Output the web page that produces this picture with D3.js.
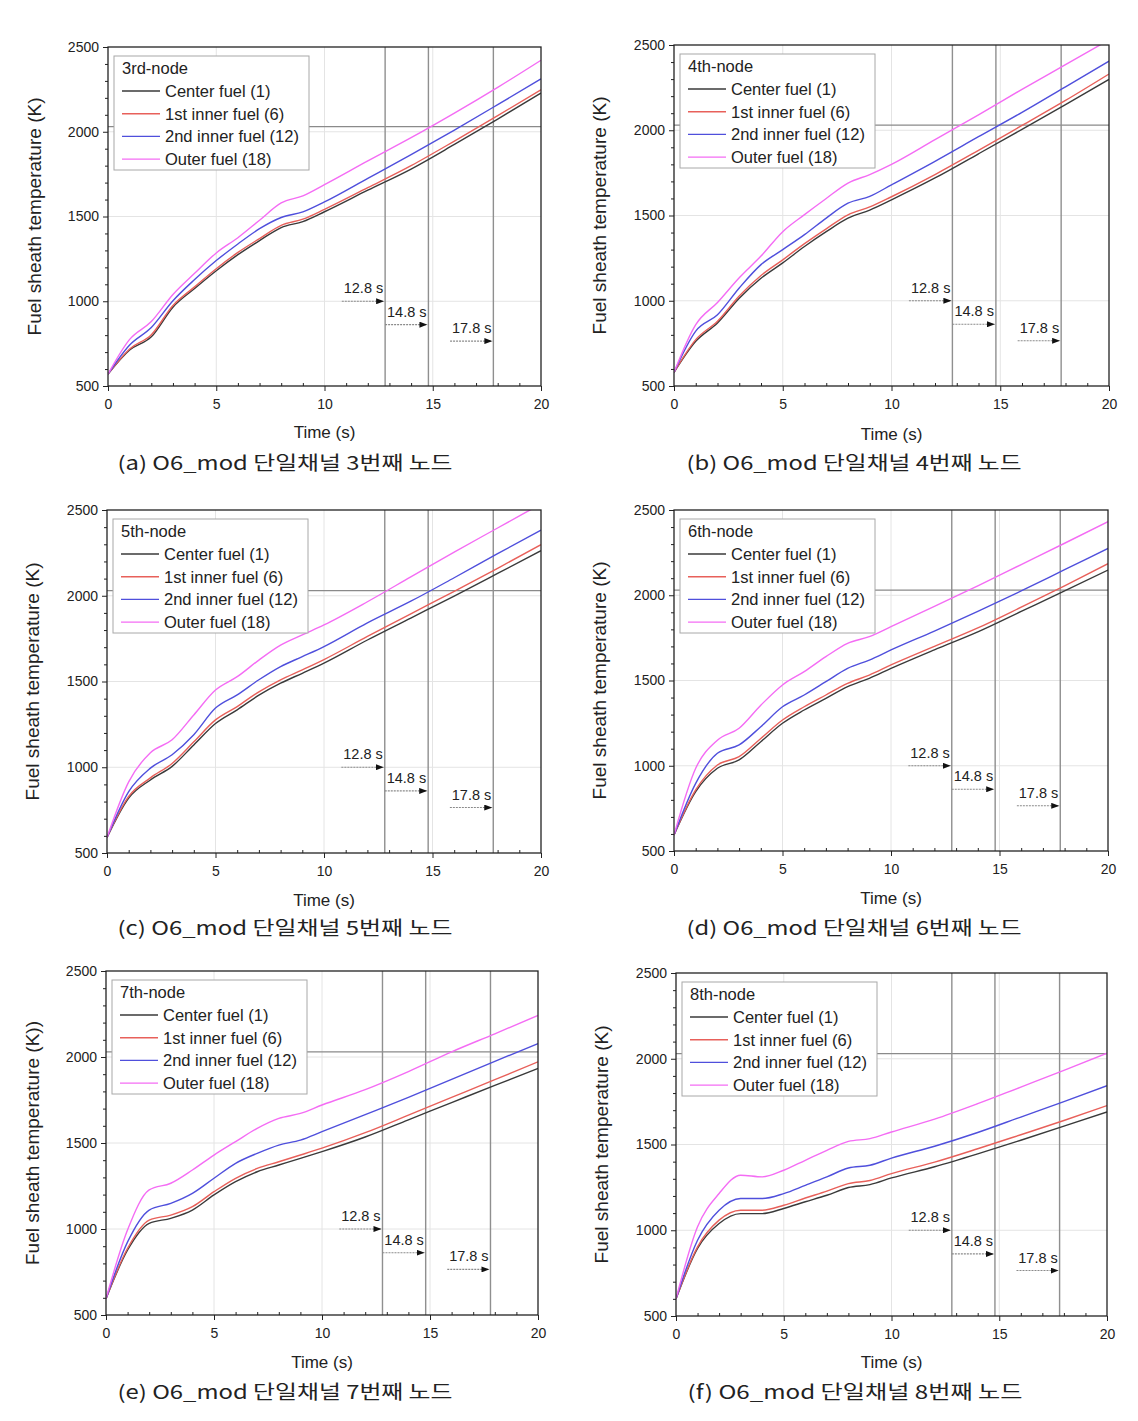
<!DOCTYPE html>
<html><head><meta charset="utf-8">
<script src="https://cdn.jsdelivr.net/npm/d3@7"></script>
<style>
html,body{margin:0;padding:0;background:#fff;}
svg{display:block;font-family:"Liberation Sans",Arial,sans-serif;}
</style></head>
<body>
<svg id="chart" width="1138" height="1421"></svg>
<script>
// ---------- DATA ----------
const timeS = [0,1,2,3,4,5,6,7,8,9,10,12,14,16,18,20];
const seriesNames = ["Center fuel (1)","1st inner fuel (6)","2nd inner fuel (12)","Outer fuel (18)"];
const nodeNames = ["3rd-node","4th-node","5th-node","6th-node","7th-node","8th-node"];
const captions = ["(a) O6_mod 단일채널 3번째 노드","(b) O6_mod 단일채널 4번째 노드","(c) O6_mod 단일채널 5번째 노드",
                  "(d) O6_mod 단일채널 6번째 노드","(e) O6_mod 단일채널 7번째 노드","(f) O6_mod 단일채널 8번째 노드"];
const yTitles = ["Fuel sheath temperature (K)","Fuel sheath temperature (K)","Fuel sheath temperature (K)",
                 "Fuel sheath temperature (K)","Fuel sheath temperature (K))","Fuel sheath temperature (K)"];
const xTicks = [0,5,10,15,20];
const yTicks = [500,1000,1500,2000,2500];
const markerTimes = [12.8,14.8,17.8];
const markerLabels = ["12.8 s","14.8 s","17.8 s"];
const markerArrowK = [1000,862,765];
const limitK = 2030;

const node3Center = [570,712,790,965,1075,1180,1275,1358,1435,1470,1528,1655,1780,1925,2075,2228];
const node3Inner1 = [570,718,802,975,1085,1192,1288,1370,1448,1484,1542,1670,1800,1945,2095,2248];
const node3Inner2 = [570,742,845,1003,1128,1240,1338,1428,1494,1527,1586,1725,1865,2010,2160,2312];
const node3Outer  = [570,775,880,1040,1165,1285,1375,1478,1580,1622,1688,1828,1965,2110,2262,2422];

const node4Center = [580,762,870,1015,1132,1222,1318,1405,1484,1532,1592,1720,1862,2005,2150,2298];
const node4Inner1 = [580,772,880,1028,1148,1240,1335,1422,1504,1550,1610,1740,1882,2028,2175,2330];
const node4Inner2 = [580,822,918,1075,1212,1300,1388,1485,1572,1612,1680,1818,1962,2105,2255,2405];
const node4Outer  = [580,860,990,1135,1262,1405,1505,1600,1690,1740,1800,1945,2090,2240,2385,2530];

const node5Center = [590,820,926,1005,1130,1255,1335,1420,1490,1548,1607,1742,1870,1998,2130,2263];
const node5Inner1 = [590,830,938,1022,1148,1276,1354,1440,1510,1568,1628,1763,1895,2025,2160,2298];
const node5Inner2 = [590,858,995,1073,1190,1345,1422,1510,1587,1645,1704,1842,1968,2105,2245,2383];
const node5Outer  = [590,915,1085,1160,1305,1450,1528,1625,1712,1772,1830,1965,2110,2255,2395,2535];

const node6Center = [594,848,985,1034,1141,1249,1327,1395,1464,1513,1571,1680,1785,1905,2025,2148];
const node6Inner1 = [594,858,1004,1053,1160,1268,1346,1415,1483,1532,1591,1700,1808,1930,2055,2185];
const node6Inner2 = [594,897,1073,1122,1229,1346,1415,1493,1571,1620,1679,1790,1905,2025,2150,2275];
const node6Outer  = [594,985,1150,1220,1355,1474,1552,1640,1718,1757,1816,1935,2055,2180,2305,2432];

const node7Center = [595,878,1033,1062,1110,1198,1275,1333,1372,1411,1450,1535,1635,1735,1835,1934];
const node7Inner1 = [595,888,1052,1081,1130,1217,1295,1352,1391,1430,1470,1560,1662,1765,1868,1972];
const node7Inner2 = [595,925,1110,1149,1207,1295,1382,1440,1488,1517,1566,1665,1765,1870,1975,2078];
const node7Outer  = [595,995,1227,1266,1343,1430,1508,1585,1643,1672,1721,1810,1915,2030,2135,2242];

const node8Center = [600,894,1039,1097,1097,1127,1166,1204,1249,1266,1305,1370,1445,1525,1607,1690];
const node8Inner1 = [600,903,1059,1117,1117,1146,1188,1228,1272,1290,1330,1397,1475,1557,1640,1727];
const node8Inner2 = [600,942,1117,1185,1185,1214,1262,1311,1363,1379,1421,1490,1570,1660,1750,1843];
const node8Outer  = [600,1020,1214,1321,1311,1350,1408,1466,1518,1534,1573,1648,1738,1835,1932,2032];

const nodeSeries = [
  [node3Center,node3Inner1,node3Inner2,node3Outer],
  [node4Center,node4Inner1,node4Inner2,node4Outer],
  [node5Center,node5Inner1,node5Inner2,node5Outer],
  [node6Center,node6Inner1,node6Inner2,node6Outer],
  [node7Center,node7Inner1,node7Inner2,node7Outer],
  [node8Center,node8Inner1,node8Inner2,node8Outer]
];

// ---------- LAYOUT / STYLE ----------
const colors = ["#3a3a3a","#e8605a","#4f4fdc","#f46cf4"];
const layout = [
  {L:108,R:541,T:47, B:386, ylx:35, xly:432, cx:285, cy:463},
  {L:674,R:1109,T:45,B:386, ylx:600,xly:434, cx:854, cy:463},
  {L:107,R:541,T:510,B:853, ylx:33, xly:900, cx:285, cy:928},
  {L:674,R:1108,T:510,B:851,ylx:600,xly:898, cx:854, cy:928},
  {L:106,R:538,T:971,B:1315,ylx:33, xly:1362,cx:285, cy:1392},
  {L:676,R:1107,T:973,B:1316,ylx:602,xly:1362,cx:855, cy:1392}
];

const svg = d3.select("#chart");
const defs = svg.append("defs");
defs.append("marker").attr("id","arrowhead").attr("viewBox","0 0 8 6")
  .attr("refX",8).attr("refY",3).attr("markerWidth",8).attr("markerHeight",6)
  .attr("markerUnits","userSpaceOnUse").attr("orient","auto")
  .append("path").attr("d","M0,0L8,3L0,6Z").attr("fill","#111");

layout.forEach((P,i)=>{
  const g = svg.append("g");
  const x = d3.scaleLinear().domain([0,20]).range([P.L,P.R]);
  const y = d3.scaleLinear().domain([500,2500]).range([P.B,P.T]);

  defs.append("clipPath").attr("id","clip"+i).append("rect")
    .attr("x",P.L).attr("y",P.T).attr("width",P.R-P.L).attr("height",P.B-P.T);

  // grid
  g.append("g").selectAll("line").data(xTicks.slice(1,-1)).join("line")
    .attr("x1",d=>x(d)).attr("x2",d=>x(d)).attr("y1",P.T).attr("y2",P.B)
    .attr("stroke","#e4e4e4").attr("stroke-width",1);
  g.append("g").selectAll("line").data(yTicks.slice(1,-1)).join("line")
    .attr("x1",P.L).attr("x2",P.R).attr("y1",d=>y(d)).attr("y2",d=>y(d))
    .attr("stroke","#e4e4e4").attr("stroke-width",1);

  // limit horizontal line
  g.append("line").attr("x1",x(0)).attr("x2",x(20)).attr("y1",y(limitK)).attr("y2",y(limitK))
    .attr("stroke","#8a8a8a").attr("stroke-width",1.1);

  // vertical marker lines
  g.append("g").selectAll("line").data(markerTimes).join("line")
    .attr("x1",d=>x(d)).attr("x2",d=>x(d)).attr("y1",P.T).attr("y2",P.B)
    .attr("stroke","#8f8f8f").attr("stroke-width",1.4);

  // data lines
  const line = d3.line().x((d,j)=>x(timeS[j])).y(d=>y(d)).curve(d3.curveMonotoneX);
  const lg = g.append("g").attr("clip-path",`url(#clip${i})`);
  nodeSeries[i].forEach((s,k)=>{
    lg.append("path").datum(s).attr("d",line).attr("fill","none")
      .attr("stroke",colors[k]).attr("stroke-width",1.4);
  });

  // annotation arrows
  markerTimes.forEach((t,k)=>{
    g.append("line").attr("x1",x(t-2)).attr("x2",x(t)-1).attr("y1",y(markerArrowK[k])).attr("y2",y(markerArrowK[k]))
      .attr("stroke","#8a8a8a").attr("stroke-width",1.1).attr("stroke-dasharray","2,1")
      .attr("marker-end","url(#arrowhead)");
    g.append("text").attr("x",x(t-1)).attr("y",y(markerArrowK[k])-8)
      .attr("text-anchor","middle").attr("font-size",14.5).attr("fill","#222").text(markerLabels[k]);
  });

  // legend
  const lx = P.L+6, ly = P.T+9;
  const leg = g.append("g");
  leg.append("rect").attr("x",lx).attr("y",ly).attr("width",195).attr("height",114)
    .attr("fill","#fff").attr("stroke","#a8a8a8").attr("stroke-width",1);
  leg.append("text").attr("x",lx+8).attr("y",ly+18).attr("font-size",16.5).attr("fill","#222").text(nodeNames[i]);
  seriesNames.forEach((nm,k)=>{
    const yy = ly+35+k*22.7;
    leg.append("line").attr("x1",lx+8).attr("x2",lx+46).attr("y1",yy).attr("y2",yy)
      .attr("stroke",colors[k]).attr("stroke-width",1.4);
    leg.append("text").attr("x",lx+51).attr("y",yy+6).attr("font-size",16.5).attr("fill","#222").text(nm);
  });

  // axes
  const xAxis = d3.axisBottom(x).tickValues(xTicks).tickSize(5).tickPadding(8).tickFormat(d3.format("d"));
  const gx = g.append("g").attr("transform",`translate(0,${P.B})`).call(xAxis);
  gx.select(".domain").remove();
  gx.selectAll("text").attr("font-size",14).attr("fill","#222").attr("font-family","Liberation Sans, Arial, sans-serif");
  gx.selectAll("line").attr("stroke","#222");
  const xMinor = d3.axisBottom(x).tickValues(d3.range(1,20).filter(v=>v%5)).tickSize(-3).tickFormat("");
  const gxm = g.append("g").attr("transform",`translate(0,${P.B})`).call(xMinor);
  gxm.select(".domain").remove(); gxm.selectAll("line").attr("stroke","#222");

  const yAxis = d3.axisLeft(y).tickValues(yTicks).tickSize(5).tickPadding(4).tickFormat(d3.format("d"));
  const gy = g.append("g").attr("transform",`translate(${P.L},0)`).call(yAxis);
  gy.select(".domain").remove();
  gy.selectAll("text").attr("font-size",14).attr("fill","#222").attr("font-family","Liberation Sans, Arial, sans-serif");
  gy.selectAll("line").attr("stroke","#222");
  const yMinor = d3.axisLeft(y).tickValues(d3.range(600,2500,100).filter(v=>v%500)).tickSize(3).tickFormat("");
  const gym = g.append("g").attr("transform",`translate(${P.L},0)`).call(yMinor);
  gym.select(".domain").remove(); gym.selectAll("line").attr("stroke","#222");

  // frame
  g.append("rect").attr("x",P.L).attr("y",P.T).attr("width",P.R-P.L).attr("height",P.B-P.T)
    .attr("fill","none").attr("stroke","#222").attr("stroke-width",1.3);

  // axis titles
  g.append("text").attr("x",(P.L+P.R)/2).attr("y",P.xly+6).attr("text-anchor","middle")
    .attr("font-size",17).attr("fill","#222").text("Time (s)");
  g.append("text").attr("transform",`translate(${P.ylx+6},${(P.T+P.B)/2}) rotate(-90)`)
    .attr("text-anchor","middle").attr("font-size",17.5).attr("fill","#222")
    .attr("textLength", i===4 ? 244 : 238).attr("lengthAdjust","spacingAndGlyphs").text(yTitles[i]);

  // caption
  g.append("text").attr("x",P.cx).attr("y",P.cy+7).attr("text-anchor","middle")
    .attr("font-family","'Noto Sans CJK KR',sans-serif").attr("font-size",19).attr("fill","#222")
    .attr("textLength",335).attr("lengthAdjust","spacingAndGlyphs").text(captions[i]);
});
</script>
</body></html>
